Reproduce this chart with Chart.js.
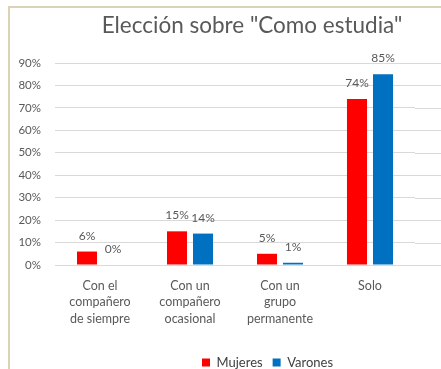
<!DOCTYPE html>
<html>
<head>
<meta charset="utf-8">
<script src="https://cdn.jsdelivr.net/npm/chart.js@4.4.1/dist/chart.umd.min.js"></script>
<style>
  html, body { margin: 0; padding: 0; background: #fff; }
  #wrap { width: 441px; height: 369px; }
</style>
</head>
<body>
<div id="wrap"><canvas id="chart" width="441" height="369"></canvas></div>
<script>
// data
const categories = [
  ['Con el', 'compañero', 'de siempre'],
  ['Con un', 'compañero', 'ocasional'],
  ['Con un', 'grupo', 'permanente'],
  'Solo'
];
const mujeres = [6, 15, 5, 74];
const varones = [0, 14, 1, 85];
const yMax = 90;
const yStep = 10;
const titleText = 'Elección sobre "Como estudia"';

const FONT = 'Lato, "Liberation Sans", sans-serif';
const GREY = '#595959';

// frame + title, drawn behind everything
const framePlugin = {
  id: 'frame',
  beforeDraw(chart) {
    const c = chart.ctx;
    c.save();
    c.strokeStyle = '#d9d2b4';
    c.lineWidth = 2;
    c.beginPath();
    c.moveTo(9, chart.height);
    c.lineTo(9, 7);
    c.lineTo(chart.width, 7);
    c.stroke();
    c.fillStyle = GREY;
    c.font = '22.5px ' + FONT;
    c.textAlign = 'center';
    c.textBaseline = 'middle';
    c.fillText(titleText, 252, 26);
    c.restore();
  }
};

// the gridlines in the picture run on to the right edge
const gridRunOn = {
  id: 'gridRunOn',
  beforeDatasetsDraw(chart) {
    const c = chart.ctx, y = chart.scales.y, a = chart.chartArea;
    c.save();
    c.strokeStyle = '#d9d9d9';
    c.lineWidth = 1;
    y.ticks.forEach(t => {
      const py = Math.round(y.getPixelForValue(t.value)) + 0.5;
      c.beginPath();
      c.moveTo(a.right, py);
      c.lineTo(chart.width, py);
      c.stroke();
    });
    c.restore();
  }
};

// legend sits right of centre in the picture
const legendShift = {
  id: 'legendShift',
  afterLayout(chart) {
    chart.legend.left += 60;
    chart.legend.right += 60;
  }
};

// value labels above the bars
const valueLabels = {
  id: 'valueLabels',
  afterDatasetsDraw(chart) {
    const c = chart.ctx;
    c.save();
    c.fillStyle = GREY;
    c.font = '12px ' + FONT;
    c.textAlign = 'center';
    c.textBaseline = 'alphabetic';
    chart.data.datasets.forEach((ds, i) => {
      chart.getDatasetMeta(i).data.forEach((bar, j) => {
        c.fillText(ds.data[j] + '%', bar.x, bar.y - 12);
      });
    });
    c.restore();
  }
};

new Chart(document.getElementById('chart'), {
  type: 'bar',
  data: {
    labels: categories,
    datasets: [
      { label: 'Mujeres', data: mujeres, backgroundColor: '#ff0000' },
      { label: 'Varones', data: varones, backgroundColor: '#0070c0' }
    ]
  },
  options: {
    responsive: false,
    animation: false,
    devicePixelRatio: 1,
    categoryPercentage: 0.578,
    barPercentage: 0.77,
    layout: { padding: { top: 63, right: 26, left: 0, bottom: -10 } },
    plugins: {
      title: { display: false },
      tooltip: { enabled: false },
      legend: {
        position: 'bottom',
        labels: {
          color: '#404040',
          font: { family: FONT, size: 13 },
          boxWidth: 8,
          boxHeight: 8,
          padding: 10
        }
      }
    },
    scales: {
      x: {
        grid: { display: false },
        border: { display: false },
        ticks: {
          color: GREY,
          font: { family: FONT, size: 12.5, lineHeight: 1.3 },
          maxRotation: 0,
          autoSkip: false,
          padding: 5
        },
        afterFit(s) { s.height = 81; }
      },
      y: {
        min: 0,
        max: yMax,
        grid: { color: '#d9d9d9', drawTicks: false },
        border: { display: false },
        ticks: {
          stepSize: yStep,
          color: GREY,
          font: { family: FONT, size: 11.5 },
          padding: 14,
          callback: v => v + '%'
        },
        afterFit(s) { s.width = 55; }
      }
    }
  },
  plugins: [framePlugin, gridRunOn, legendShift, valueLabels]
});
</script>
</body>
</html>
